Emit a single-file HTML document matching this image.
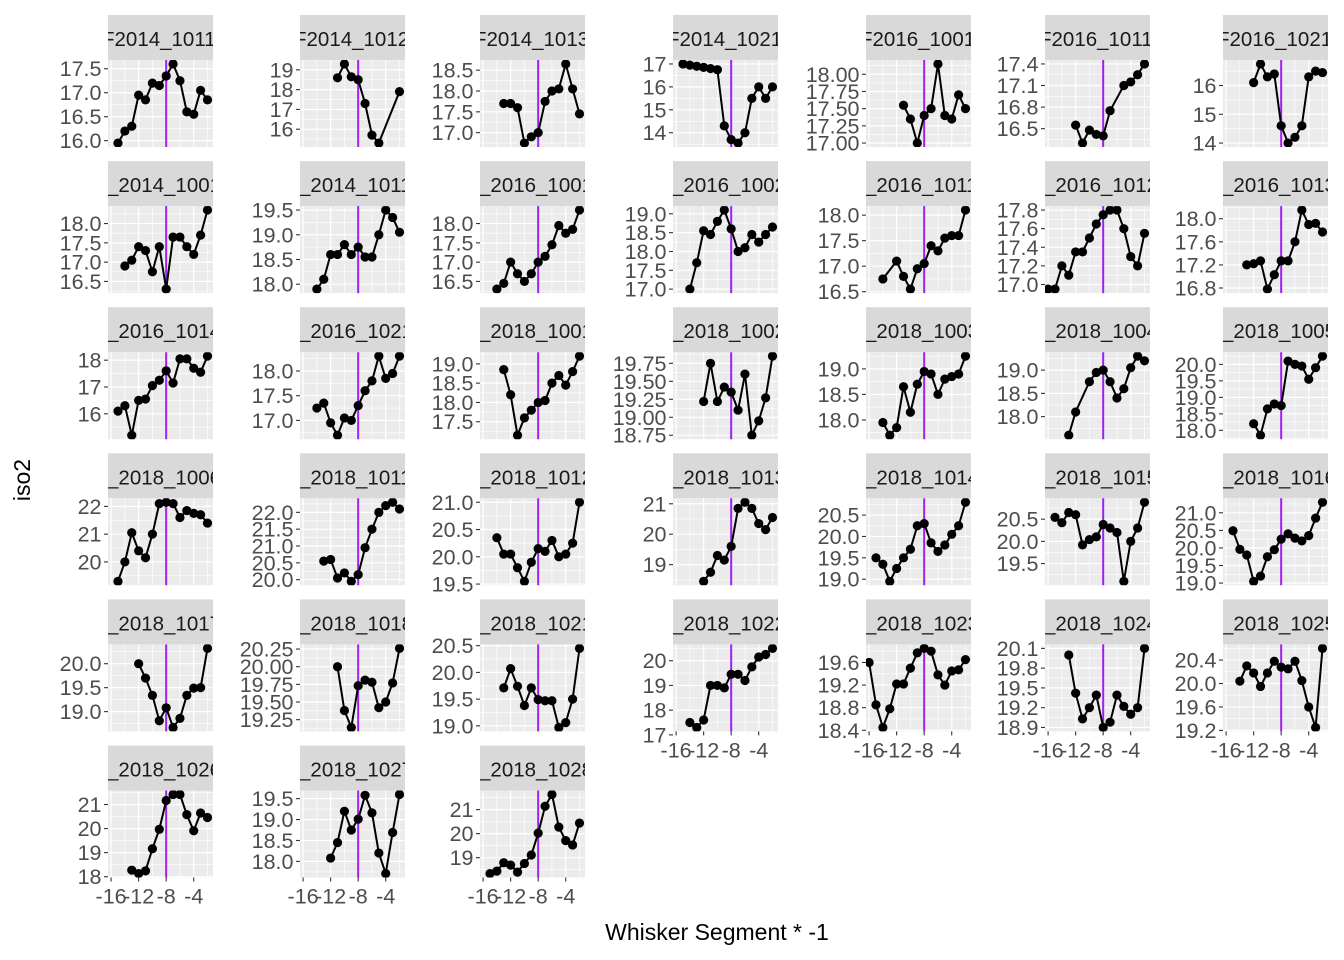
<!DOCTYPE html>
<html><head><meta charset="utf-8"><style>
html,body{margin:0;padding:0;background:#fff;}
svg{display:block;font-family:"Liberation Sans",sans-serif;}
</style></head><body>
<svg id="chart" width="1344" height="960" viewBox="0 0 1344 960">
<text x="717" y="940" text-anchor="middle" font-size="23" fill="#000">Whisker Segment * -1</text>
<text x="0" y="0" transform="translate(30,480) rotate(-90)" text-anchor="middle" font-size="23" fill="#000">iso2</text>
</svg>
<script>
const panelLabels = [
"F2014_1011","F2014_1012","F2014_1013","F2014_1021","F2016_1001","F2016_1011","F2016_1021",
"F_2014_1001","F_2014_1011","F_2016_1001","F_2016_1002","F_2016_1011","F_2016_1012","F_2016_1013",
"F_2016_1014","F_2016_1021","F_2018_1001","F_2018_1002","F_2018_1003","F_2018_1004","F_2018_1005",
"F_2018_1006","F_2018_1011","F_2018_1012","F_2018_1013","F_2018_1014","F_2018_1015","F_2018_1016",
"F_2018_1017","F_2018_1018","F_2018_1021","F_2018_1022","F_2018_1023","F_2018_1024","F_2018_1025",
"F_2018_1026","F_2018_1027","F_2018_1028"];
const panelX0 = [-15,-11,-13,-15,-11,-12,-12, -14,-14,-14,-14,-14,-16,-13, -15,-14,-13,-12,-14,-13,-12, -15,-13,-14,-12,-15,-15,-15, -12,-11,-13,-14,-16,-13,-14, -13,-12,-15];
const panelY = [
[15.95,16.2,16.3,16.95,16.85,17.2,17.15,17.35,17.6,17.25,16.6,16.55,17.05,16.85],
[18.6,19.3,18.65,18.5,17.3,15.7,15.3,null,null,17.9],
[17.7,17.7,17.6,16.75,16.9,17.0,17.75,18.0,18.05,18.65,18.05,17.45],
[17.0,16.95,16.9,16.85,16.8,16.75,14.3,13.7,13.55,14.0,15.5,16.0,15.5,16.0],
[17.55,17.35,17.0,17.4,17.5,18.15,17.4,17.35,17.7,17.5],
[16.55,16.3,16.48,16.42,16.4,16.75,null,17.1,17.15,17.25,17.4],
[16.1,16.75,16.3,16.4,14.6,14.0,14.2,14.6,16.3,16.5,16.45],
[16.9,17.05,17.4,17.3,16.75,17.4,16.3,17.65,17.65,17.4,17.2,17.7,18.35],
[17.9,18.1,18.6,18.6,18.8,18.6,18.75,18.55,18.55,19.0,19.5,19.35,19.05],
[16.3,16.45,17.0,16.7,16.5,16.7,17.0,17.15,17.45,17.95,17.75,17.85,18.35],
[17.0,17.7,18.55,18.45,18.8,19.1,18.6,18.0,18.1,18.45,18.25,18.45,18.65],
[16.75,null,17.1,16.8,16.55,16.95,17.05,17.4,17.3,17.55,17.6,17.6,18.1],
[16.95,16.95,17.2,17.1,17.35,17.35,17.5,17.65,17.75,17.8,17.8,17.6,17.3,17.2,17.55],
[17.2,17.22,17.27,16.78,17.03,17.27,17.27,17.6,18.15,17.9,17.92,17.77],
[16.1,16.3,15.2,16.5,16.55,17.05,17.25,17.6,17.15,18.05,18.05,17.7,17.55,18.15],
[17.25,17.35,16.95,16.7,17.05,17.0,17.3,17.6,17.8,18.3,17.85,17.95,18.3],
[18.85,18.2,17.15,17.6,17.8,18.0,18.05,18.5,18.7,18.45,18.8,19.2],
[19.22,19.75,19.22,19.42,19.35,19.1,19.6,18.75,18.95,19.27,19.85],
[17.95,17.7,17.85,18.65,18.15,18.7,18.95,18.9,18.5,18.8,18.85,18.9,19.25],
[17.6,18.1,null,18.75,18.95,19.0,18.75,18.4,18.6,19.05,19.3,19.2],
[18.2,17.85,18.65,18.8,18.75,20.1,20.0,19.95,19.55,19.9,20.25],
[19.3,20.0,21.05,20.4,20.15,21.0,22.1,22.15,22.1,21.6,21.85,21.75,21.7,21.4],
[20.55,20.6,20.05,20.2,19.95,20.15,20.95,21.5,22.0,22.2,22.3,22.1],
[20.35,20.05,20.05,19.8,19.55,19.9,20.15,20.1,20.3,20.0,20.05,20.25,21.0],
[18.45,18.75,19.3,19.15,19.6,20.85,21.05,20.85,20.35,20.15,20.55],
[19.5,19.35,18.95,19.25,19.5,19.7,20.25,20.3,19.85,19.65,19.8,20.05,20.25,20.8],
[20.54,20.42,20.65,20.6,19.92,20.04,20.1,20.38,20.3,20.2,19.1,20.0,20.3,20.88],
[20.49,19.96,19.8,19.05,19.2,19.75,19.95,20.25,20.4,20.28,20.2,20.35,20.85,21.3],
[20.0,19.7,19.34,18.81,19.08,18.67,18.86,19.34,19.49,19.5,20.32],
[20.0,19.38,19.14,19.73,19.81,19.78,19.42,19.5,19.77,20.26],
[19.71,20.07,19.74,19.38,19.71,19.49,19.47,19.47,18.97,19.06,19.5,20.45],
[17.5,17.3,17.6,19.0,19.0,18.9,19.45,19.45,19.2,19.75,20.15,20.25,20.5],
[19.6,18.85,18.45,18.78,19.22,19.22,19.5,19.77,19.85,19.8,19.38,19.2,19.45,19.47,19.65],
[20.0,19.42,19.03,19.2,19.39,18.9,18.98,19.39,19.22,19.1,19.2,20.1],
[20.04,20.3,20.18,19.95,20.18,20.38,20.28,20.25,20.38,20.05,19.6,19.25,20.6],
[18.27,18.13,18.24,19.16,19.97,21.17,21.42,21.42,20.58,19.91,20.65,20.46],
[18.08,18.45,19.2,18.75,19.01,19.58,19.16,18.2,17.71,18.69,19.6],
[18.34,18.44,18.79,18.69,18.4,18.76,19.11,20.02,21.14,21.63,20.27,19.71,19.53,20.44]];
const panelTicks = [
["16.0","16.5","17.0","17.5"],["16","17","18","19"],["17.0","17.5","18.0","18.5"],["14","15","16","17"],
["17.00","17.25","17.50","17.75","18.00"],["16.5","16.8","17.1","17.4"],["14","15","16"],
["16.5","17.0","17.5","18.0"],["18.0","18.5","19.0","19.5"],["16.5","17.0","17.5","18.0"],["17.0","17.5","18.0","18.5","19.0"],
["16.5","17.0","17.5","18.0"],["17.0","17.2","17.4","17.6","17.8"],["16.8","17.2","17.6","18.0"],
["16","17","18"],["17.0","17.5","18.0"],["17.5","18.0","18.5","19.0"],["18.75","19.00","19.25","19.50","19.75"],
["18.0","18.5","19.0"],["18.0","18.5","19.0"],["18.0","18.5","19.0","19.5","20.0"],
["20","21","22"],["20.0","20.5","21.0","21.5","22.0"],["19.5","20.0","20.5","21.0"],["19","20","21"],
["19.0","19.5","20.0","20.5"],["19.5","20.0","20.5"],["19.0","19.5","20.0","20.5","21.0"],
["19.0","19.5","20.0"],["19.25","19.50","19.75","20.00","20.25"],["19.0","19.5","20.0","20.5"],["17","18","19","20"],
["18.4","18.8","19.2","19.6"],["18.9","19.2","19.5","19.8","20.1"],["19.2","19.6","20.0","20.4"],
["18","19","20","21"],["18.0","18.5","19.0","19.5"],["19","20","21"]];
const xTicks = [-16,-12,-8,-4];
const xTickLabels = ["-16","-12","-8","-4"];
const xMinor = [-14,-10,-6,-2];
const cutoffX = -8;

const NS = "http://www.w3.org/2000/svg";
const svg = document.getElementById("chart");
const colLeft = [108,300,480,673,866,1045,1223];
const PW = 105, STRIP = 45, PH = 87, ROW0 = 15, ROWSTEP = 146.1;
const XD = [-16.45,-1.2];
const TF = 21.5;
function mk(tag, attrs, parent){const e=document.createElementNS(NS,tag);for(const k in attrs)e.setAttribute(k,attrs[k]);(parent||svg).appendChild(e);return e;}
const defs = mk("defs",{});

panelLabels.forEach((lab,i)=>{
  const r=Math.floor(i/7), c=i%7;
  const L=colLeft[c], T=ROW0+r*ROWSTEP, PT=T+STRIP, PB=PT+PH;
  const ys=panelY[i], x0=panelX0[i];
  const pts=[]; ys.forEach((v,j)=>{if(v!==null)pts.push([x0+j,v]);});
  const vals=pts.map(p=>p[1]); let mn=Math.min(...vals), mx=Math.max(...vals); const pad=(mx-mn)*0.05; mn-=pad; mx+=pad;
  const sx=x=>L+(x-XD[0])/(XD[1]-XD[0])*PW;
  const sy=y=>PB-(y-mn)/(mx-mn)*PH;
  const g=mk("g",{});
  
  
  const cp=mk("clipPath",{id:"cp"+i},defs); mk("rect",{x:L,y:PT,width:PW,height:PH},cp);
  const cs=mk("clipPath",{id:"cs"+i},defs); mk("rect",{x:L,y:T,width:PW,height:STRIP},cs);
  const sr=mk("rect",{x:L,y:T,width:PW,height:STRIP,fill:"#D9D9D9"},g);
  
  
  const tx = r===0 ? L-6 : L-13.5;
  const st=mk("text",{x:tx,y:T+31,"text-anchor":"start","font-size":"20.5",fill:"#1A1A1A","clip-path":"url(#cs"+i+")"},g);
  st.textContent=lab;
  
  
  const bg=mk("rect",{x:L,y:PT,width:PW,height:PH,fill:"#EBEBEB"},g);
  
  
  const grid=mk("g",{"clip-path":"url(#cp"+i+")",stroke:"#fff"},g);
  xMinor.forEach(x=>mk("line",{x1:sx(x),x2:sx(x),y1:PT,y2:PB,"stroke-width":"0.6"},grid));
  xTicks.forEach(x=>mk("line",{x1:sx(x),x2:sx(x),y1:PT,y2:PB,"stroke-width":"1.2"},grid));
  const tv=panelTicks[i].map(parseFloat); const step=tv[1]-tv[0];
  tv.concat([tv[tv.length-1]+step]).forEach(t=>{const y=sy(t-step/2); mk("line",{x1:L,x2:L+PW,y1:y,y2:y,"stroke-width":"0.6"},grid);});
  tv.forEach((t,k)=>{const y=sy(t);
    mk("line",{x1:L,x2:L+PW,y1:y,y2:y,"stroke-width":"1.2"},grid);
    mk("line",{x1:L-4,x2:L,y1:y,y2:y,stroke:"#333","stroke-width":"1.1"},g);
    const tl=mk("text",{x:L-6.5,y:y+7.5,"text-anchor":"end","font-size":TF,fill:"#4D4D4D"},g);
    tl.textContent=panelTicks[i][k];
    
    
  });
  const vl=mk("line",{x1:sx(cutoffX),x2:sx(cutoffX),y1:PT,y2:PB,stroke:"#A020F0","stroke-width":"2"},g);
  
  
  const dg=mk("g",{"clip-path":"url(#cp"+i+")"},g);
  const path=mk("polyline",{points:pts.map(p=>sx(p[0]).toFixed(1)+","+sy(p[1]).toFixed(1)).join(" "),fill:"none",stroke:"#000","stroke-width":"2"},dg);
  
  
  pts.forEach(p=>{const d=mk("circle",{cx:sx(p[0]),cy:sy(p[1]),r:"4.6",fill:"#000"},dg);
    
    
  });
  const bottom = (r===5) || (r===4 && c>=3);
  if(bottom){
    xTicks.forEach((x,k)=>{
      mk("line",{x1:sx(x),x2:sx(x),y1:PB,y2:PB+4,stroke:"#333","stroke-width":"1.1"},g);
      const xl=mk("text",{x:sx(x),y:PB+26,"text-anchor":"middle","font-size":TF,fill:"#4D4D4D"},g);
      xl.textContent=xTickLabels[k];
      
      
    });
  }
});
</script>
</body></html>
